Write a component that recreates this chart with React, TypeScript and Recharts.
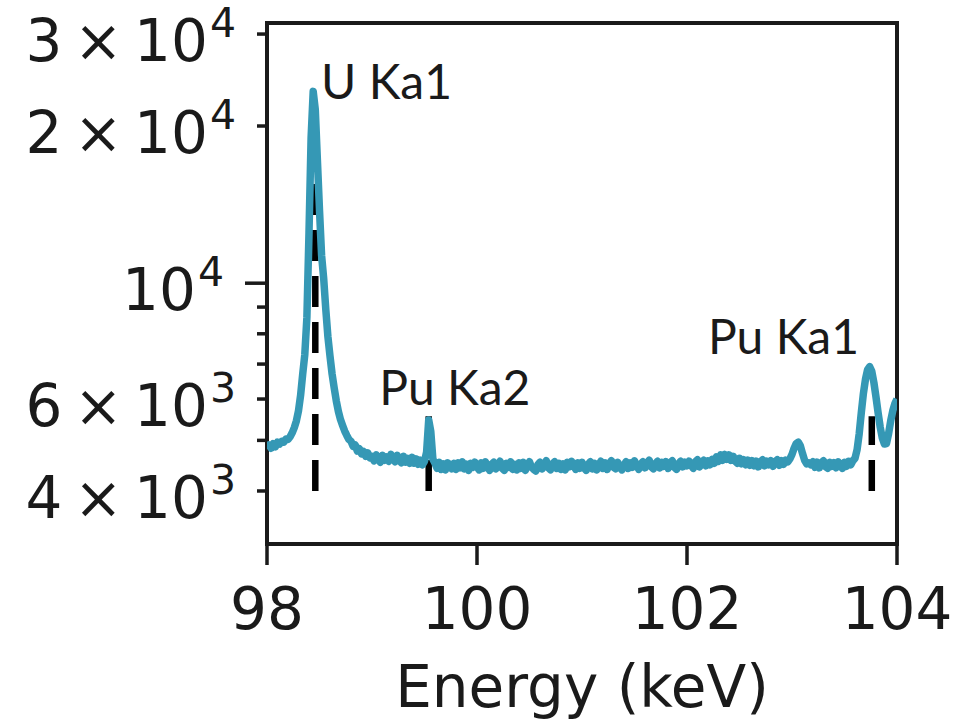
import { LineChart, Line, XAxis, YAxis, ReferenceArea, ReferenceDot, Label } from 'recharts';

// spectrum channels, 0.02 keV wide, starting at 98 keV
const channelStart = 98;
const channelWidth = 0.02;
const counts = [
  4810, 4900, 4830, 4930, 4860, 4960, 4920, 4980, 4960, 5030,
  5020, 5080, 5170, 5290, 5450, 5700, 6100, 6700, 7300, 8600,
  12500, 19000, 23300, 21500, 17200, 13800, 11300, 10200, 8900, 7900,
  7250, 6700, 6300, 5950, 5680, 5480, 5340, 5210, 5110, 5020,
  4980, 4870, 4900, 4770, 4820, 4710, 4760, 4660, 4730, 4630,
  4660, 4570, 4690, 4600, 4540, 4680, 4580, 4650, 4560, 4700,
  4610, 4550, 4680, 4590, 4530, 4660, 4540, 4620, 4520, 4640,
  4520, 4610, 4500, 4580, 4490, 4560, 4750, 5470, 5200, 4600,
  4520, 4420, 4540, 4400, 4510, 4390, 4530, 4480, 4410, 4520,
  4400, 4530, 4430, 4550, 4410, 4500, 4380, 4520, 4440, 4540,
  4450, 4390, 4530, 4420, 4550, 4460, 4380, 4500, 4540, 4410,
  4480, 4560, 4420, 4380, 4520, 4440, 4550, 4400, 4500, 4390,
  4530, 4420, 4540, 4380, 4470, 4550, 4440, 4400, 4370, 4490,
  4540, 4410, 4500, 4570, 4430, 4390, 4510, 4550, 4420, 4520,
  4400, 4510, 4390, 4540, 4450, 4560, 4480, 4400, 4530, 4420,
  4540, 4430, 4380, 4500, 4550, 4410, 4520, 4390, 4480, 4560,
  4420, 4530, 4400, 4510, 4570, 4440, 4410, 4540, 4450, 4390,
  4490, 4550, 4420, 4530, 4440, 4570, 4480, 4400, 4500, 4550,
  4430, 4520, 4580, 4450, 4410, 4510, 4560, 4430, 4540, 4460,
  4550, 4420, 4530, 4570, 4440, 4400, 4510, 4560, 4450, 4540,
  4470, 4560, 4480, 4420, 4550, 4590, 4450, 4520, 4580, 4470,
  4570, 4490, 4600, 4520, 4650, 4560, 4690, 4580, 4700, 4600,
  4690, 4580, 4660, 4560, 4520, 4620, 4510, 4590, 4490, 4580,
  4480, 4570, 4470, 4560, 4450, 4540, 4590, 4470, 4560, 4490,
  4570, 4460, 4550, 4590, 4480, 4570, 4500, 4580, 4550, 4610,
  4700, 4830, 4930, 4960, 4880, 4720, 4580, 4510, 4530, 4490,
  4550, 4440, 4540, 4430, 4520, 4570, 4450, 4420, 4540, 4460,
  4530, 4430, 4550, 4470, 4420, 4540, 4460, 4560, 4490, 4570,
  4620, 4800, 5150, 5650, 6150, 6550, 6830, 6920, 6780, 6450,
  6050, 5650, 5300, 5050, 4920, 4930, 5150, 5450, 5700, 5880,
  6000,
];

const energyTicks = [98, 100, 102, 104];
const countTicks = [4000, 5000, 6000, 7000, 8000, 9000, 10000, 20000, 30000];
// mantissa / exponent for the labelled ticks
const countTickLabels: Record<number, [string, string]> = {
  4000: ['4', '3'],
  6000: ['6', '3'],
  10000: ['', '4'],
  20000: ['2', '4'],
  30000: ['3', '4'],
};
const countDomain = [3166, 31500];

// reference line energies (keV) and their heights
const lineNames = ['U Ka1', 'Pu Ka2', 'Pu Ka1'];
const lineEnergies = [98.46, 99.54, 103.76];
const lineTops = [16000, 5560, 5560];
const lineBottom = 4000;
// where each name is written (left edge, baseline)
const nameEnergies = [98.515, 99.07, 102.2];
const nameCounts = [22500, 5840, 7310];

const spectrum = counts.map((c, i) => ({
  energy: +(channelStart + i * channelWidth).toFixed(2),
  counts: c,
}));

const markers = lineEnergies.map((e, i) => [
  { energy: e, counts: lineBottom },
  { energy: e, counts: lineTops[i] },
]);

const INK = '#1a1a1a';
const TEAL = '#3598b5';

const YTick = (props: any) => {
  const { x, y, payload } = props;
  const v = payload.value;
  const len = v === 10000 ? 22 : 10;
  const lbl = countTickLabels[v];
  return (
    <g>
      <line x1={x - len} x2={x} y1={y} y2={y} stroke={INK} strokeWidth={3.5} />
      {lbl && (
        <text
          x={x - len - 21}
          y={y + 27}
          textAnchor="end"
          fontFamily="DejaVu Sans"
          fontSize={58}
          fill={INK}
        >
          {lbl[0] ? `${lbl[0]}\u2009×\u200910` : '10'}
          <tspan dx={2} dy={-24} fontSize={41}>{lbl[1]}</tspan>
        </text>
      )}
    </g>
  );
};

const XTick = (props: any) => {
  const { x, y, payload } = props;
  return (
    <g>
      <line x1={x} x2={x} y1={y} y2={y + 21} stroke={INK} strokeWidth={3.5} />
      <text x={x} y={y + 85} textAnchor="middle" fontFamily="DejaVu Sans" fontSize={58} fill={INK}>
        {payload.value}
      </text>
    </g>
  );
};

const XLabel = (props: any) => {
  const vb = props.viewBox || {};
  return (
    <text
      x={vb.x + vb.width / 2}
      y={vb.y + 163}
      textAnchor="middle"
      fontFamily="DejaVu Sans"
      fontSize={58}
      fill={INK}
    >
      Energy (keV)
    </text>
  );
};

export default function App() {
  return (
    <div style={{ position: 'absolute', left: 0, top: 0, background: '#fff' }}>
      <LineChart width={961} height={721} margin={{ top: 23, right: 64, bottom: 0, left: 0 }}>
        <XAxis
          dataKey="energy"
          type="number"
          domain={[98, 104]}
          ticks={energyTicks}
          interval={0}
          height={177}
          axisLine={false}
          tickLine={false}
          tickSize={0}
          tickMargin={0}
          tick={<XTick />}
          allowDataOverflow
        >
          <Label content={<XLabel />} />
        </XAxis>
        <YAxis
          dataKey="counts"
          type="number"
          scale="log"
          domain={countDomain}
          ticks={countTicks}
          interval={0}
          width={267}
          axisLine={false}
          tickLine={false}
          tickSize={0}
          tickMargin={0}
          tick={<YTick />}
          allowDataOverflow
        />
        <ReferenceArea
          x1={98}
          x2={104}
          y1={countDomain[0]}
          y2={countDomain[1]}
          fill="none"
          fillOpacity={0}
          stroke={INK}
          strokeWidth={4}
          ifOverflow="visible"
        />
        {markers.map((m, i) => (
          <Line
            key={lineNames[i]}
            data={m}
            dataKey="counts"
            type="linear"
            stroke="#000"
            strokeWidth={6.5}
            strokeDasharray="31 15"
            dot={false}
            activeDot={false}
            isAnimationActive={false}
          />
        ))}
        <Line
          data={spectrum}
          dataKey="counts"
          type="linear"
          stroke={TEAL}
          strokeWidth={7.5}
          strokeLinejoin="round"
          dot={false}
          activeDot={false}
          isAnimationActive={false}
        />
        {lineNames.map((name, i) => (
          <ReferenceDot
            key={name}
            x={nameEnergies[i]}
            y={nameCounts[i]}
            r={0}
            ifOverflow="visible"
            shape={(p: any) => (
              <text x={p.cx} y={p.cy} fontFamily="Lato" fontSize={48} fill={INK}>
                {name}
              </text>
            )}
          />
        ))}
      </LineChart>
    </div>
  );
}
